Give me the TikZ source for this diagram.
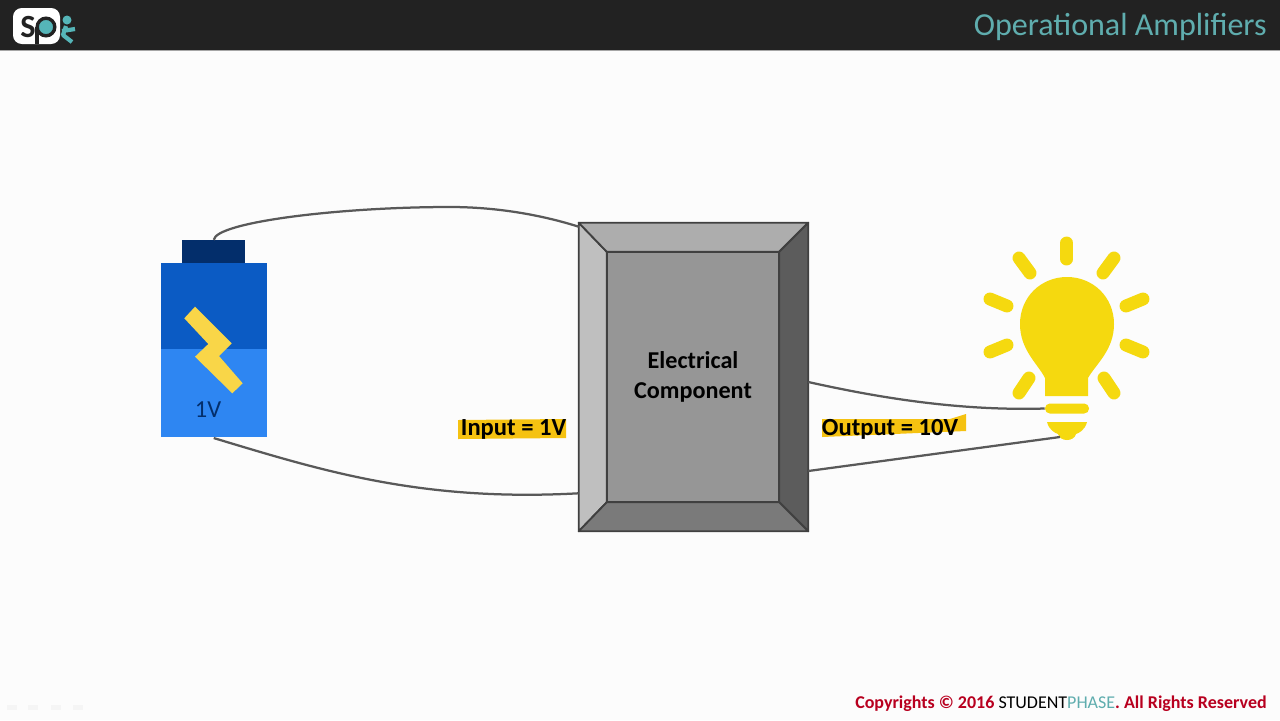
\documentclass[tikz,border=0pt]{standalone}
\usepackage{fontspec}
\setmainfont{Carlito}
\usetikzlibrary{positioning,calc}
\definecolor{headbar}{HTML}{222222}
\definecolor{titleteal}{HTML}{5FADAE}
\definecolor{logoteal}{HTML}{55B5B8}
\definecolor{wiregray}{HTML}{595959}
\definecolor{battdark}{HTML}{032E6B}
\definecolor{battmid}{HTML}{0B5BC4}
\definecolor{battlight}{HTML}{2E86F2}
\definecolor{boltyellow}{HTML}{F9D648}
\definecolor{bulbyellow}{HTML}{F5D90F}
\definecolor{markyellow}{HTML}{F5C211}
\definecolor{copyred}{HTML}{B8001F}

\begin{document}
\begin{tikzpicture}[x=0.25mm,y=-0.25mm,
  wire/.style={line width=1.6pt,wiregray},
  face/.style={draw=black!75,line width=1.3pt,line join=round},
  ray/.style={line width=9.2pt,bulbyellow,line cap=round},
  marklab/.style={font=\fontsize{17.5}{20}\selectfont\bfseries,text=black,inner sep=0pt},
  battpart/.style={inner sep=0pt,outer sep=0pt}]

\useasboundingbox (0,0) rectangle (1280,720);
\fill[white!99!black] (0,0) rectangle (1280,720);

% top bar
\fill[headbar] (0,0) rectangle (1280,50);
\draw[black!35,line width=0.7pt] (0,50.5)--(1280,50.5);
\node[anchor=east,inner sep=0pt,text=titleteal,font=\fontsize{22.8}{26}\selectfont] (title) at (1267,27) {Operational Amplifiers};

% logo
\fill[white,rounded corners=2.2mm] (13,8) rectangle (60,44);
\node[inner sep=0pt,text=headbar,font=\fontsize{23}{23}\selectfont\bfseries] (logos) at (28,27) {S};
\draw[headbar,line width=2.2pt] (37,27)--(37,44);
\node[circle,draw=headbar,line width=2.4pt,fill=logoteal,minimum size=4.4mm,inner sep=0pt] (logop) at (46,27) {};
\fill[logoteal] (67,20) circle (4.5);
\draw[logoteal,line width=3pt,line join=round] (66,26)--(63,35)--(72,42) (62,31)--(75,29);

% battery
\node[battpart,fill=battlight,minimum width=26.6mm,minimum height=43.4mm] (battbody) at (213.75,350.25) {};
\fill[battmid] (battbody.north west) rectangle ($(battbody.east)+(0,-1)$);
\node[battpart,fill=battdark,minimum width=15.7mm,minimum height=5.9mm,above=0pt of battbody] (battcap) {};
\fill[boltyellow] (195,306.7)--(231.7,343.3)--(219,356)--(242.7,383.3)--(232.3,393.3)--(195,356.7)--(208.3,344)--(184.3,318.3)--cycle;
\node[inner sep=0pt,text=battdark,font=\fontsize{17.4}{20}\selectfont] (battlab) at (208,410) {1V};

% electrical component
\node[minimum width=57.25mm,minimum height=77mm,inner sep=0pt] (compbox) at (693.5,377) {};
\node[minimum width=43mm,minimum height=62.5mm,inner sep=0pt] (compfront) at (693,377) {};
\draw[face,fill=black!25] (compbox.north west)--(compfront.north west)--(compfront.south west)--(compbox.south west)--cycle;
\draw[face,fill=black!32] (compbox.north west)--(compbox.north east)--(compfront.north east)--(compfront.north west)--cycle;
\draw[face,fill=black!64] (compbox.north east)--(compbox.south east)--(compfront.south east)--(compfront.north east)--cycle;
\draw[face,fill=black!52] (compbox.south west)--(compbox.south east)--(compfront.south east)--(compfront.south west)--cycle;
\node[face,fill=black!41,minimum width=43mm,minimum height=62.5mm,inner sep=0pt,align=center,text=black,
  font=\fontsize{17.2}{21.3}\selectfont\bfseries] at (compfront) {Electrical\\Component};

% bulb
\fill[bulbyellow] (1045,396)--(1045,378) .. controls (1038,364) and (1020,350) .. (1020,324)
  .. controls (1020,297) and (1041,277) .. (1067,277) .. controls (1093,277) and (1114,297) .. (1114,324)
  .. controls (1114,350) and (1096,364) .. (1088,378)--(1088,396)--cycle;
\node[rounded corners=1.2mm,fill=bulbyellow,minimum width=11mm,minimum height=2.5mm,inner sep=0pt] (bulbband) at (1067,408.5) {};
\fill[bulbyellow] (1047,422)--(1087,422) .. controls (1085,430) and (1079,433) .. (1076,434)
  .. controls (1074,442) and (1060,442) .. (1058,434) .. controls (1055,433) and (1049,430) .. (1047,422)--cycle;
\coordinate (bulbtip) at (1060,437);
\draw[ray] (1066.7,243)--(1066.7,259);
\draw[ray] (1019,258)--(1030,273);
\draw[ray] (1114,258)--(1103,273);
\draw[ray] (990,299)--(1007,306);
\draw[ray] (1143,299)--(1126,306);
\draw[ray] (990,352)--(1007,345);
\draw[ray] (1143,352)--(1126,345);
\draw[ray] (1019,393)--(1029,378);
\draw[ray] (1114,393)--(1104,378);

% wires
\draw[wire] (battcap.north) .. controls (216,222) and (340,207) .. (450,207) .. controls (500,207) and (545,216) .. ($(compbox.north west)+(0,4)$);
\draw[wire] ($(battbody.south)+(0,1)$) .. controls (320,470) and (420,502) .. ($(compbox.south west)+(0,-38)$);
\draw[wire] ($(compbox.east)+(0,5)$) .. controls (880,398) and (960,411) .. (bulbband.west);
\draw[wire] ($(compbox.east)+(0,94)$)--(bulbtip);

% highlighted labels
\fill[markyellow] (458,420)--(566,419)--(566,438)--(458,439)--cycle;
\node[marklab] (inputlab) at (513.5,429) {Input = 1V};
\fill[markyellow] (822,419)--(950,419)--(966,414)--(966,431)--(822,437)--cycle;
\node[marklab] (outputlab) at (890,429) {Output = 10V};

% footer
\node[anchor=east,inner sep=0pt,font=\fontsize{12.8}{15}\selectfont\bfseries,text=copyred] (copyline) at (1267,704)
  {Copyrights © 2016 {\mdseries\color{black}STUDENT\color{titleteal}PHASE}. All Rights Reserved};

% slide controls
\foreach \xa in {12,33,56,78}
  \fill[black!4] (\xa-5,705) rectangle (\xa+5,710);
\end{tikzpicture}
\end{document}
